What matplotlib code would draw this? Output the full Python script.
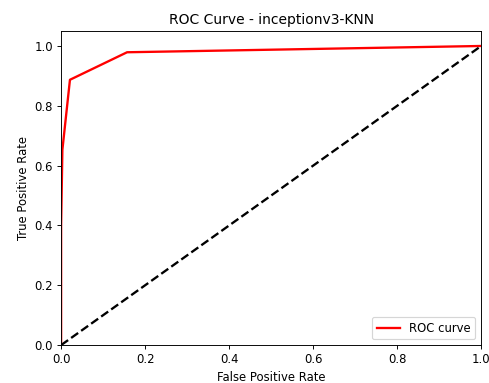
import matplotlib
matplotlib.use('Agg')
import matplotlib.pyplot as plt

# ROC points
fpr = [0.0, 0.0, 0.003, 0.021, 0.157, 1.0]
tpr = [0.0, 0.40, 0.653, 0.887, 0.979, 1.0]
diag = [0.0, 1.0]

dpi = 83.5
fig = plt.figure(figsize=(489 / dpi, 383 / dpi), dpi=dpi)
ax = fig.add_axes([0.125, 0.099, 0.859, 0.82])
ax.plot(fpr, tpr, color='red', lw=2, label='ROC curve')
ax.plot(diag, diag, color='black', lw=2, linestyle='--')
ax.set_xlim(0.0, 1.0)
ax.set_ylim(0.0, 1.05)
ax.set_xlabel('False Positive Rate')
ax.set_ylabel('True Positive Rate')
ax.set_title('ROC Curve - inceptionv3-KNN')
ax.legend(loc='lower right')

fig.savefig('out.png', dpi=dpi)
